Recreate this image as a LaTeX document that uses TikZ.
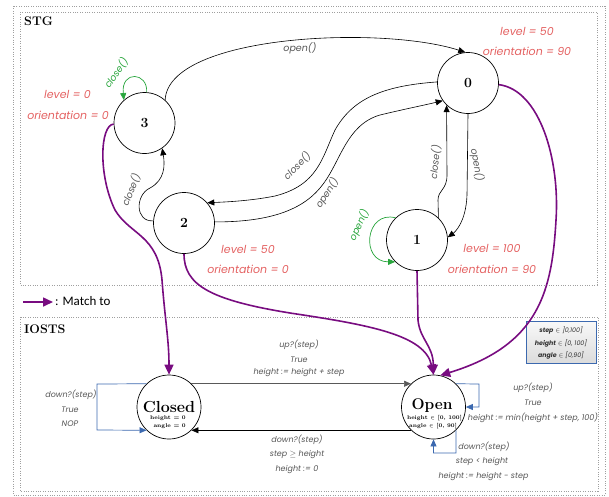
\documentclass[tikz,border=0pt]{standalone}
\usepackage{fontspec}
\newfontfamily\labfont{Poppins}
\newfontfamily\legfont{Carlito}
\usetikzlibrary{arrows.meta}
\definecolor{redl}{RGB}{228,98,98}
\definecolor{greenl}{RGB}{40,165,60}
\definecolor{purp}{RGB}{120,12,128}
\definecolor{bluel}{RGB}{60,105,175}
\definecolor{labgray}{RGB}{85,85,85}
\tikzset{
  stnode/.style={circle, draw, line width=0.7pt, minimum size=61pt, inner sep=0pt, fill=white, font=\bfseries\fontsize{14}{14}\selectfont},
  ionode/.style={circle, draw, line width=0.7pt, minimum size=64pt, inner sep=0pt, fill=white},
  redlab/.style={text=redl, font=\labfont\itshape\fontsize{11}{12}\selectfont, inner sep=0pt},
  stglab/.style={text=labgray, font=\labfont\itshape\fontsize{9.5}{10}\selectfont, inner sep=0pt},
  greenlab/.style={text=greenl, font=\labfont\itshape\fontsize{9.5}{10}\selectfont, inner sep=0pt},
  iolab/.style={text=labgray, font=\labfont\itshape\fontsize{8}{9}\selectfont, inner sep=0pt},
  tri/.style={-{Triangle[length=7pt,width=6pt]}, line width=0.6pt},
  greenarr/.style={draw=greenl, -{Triangle[length=7pt,width=6pt]}, line width=0.7pt},
  bluearr/.style={draw=bluel, -{Triangle[length=7pt,width=6pt]}, line width=0.7pt},
  match/.style={draw=purp, line width=1.6pt, -{Triangle[length=10pt,width=9pt]}},
  frame/.style={draw=gray!75, line width=0.6pt, dash pattern=on 1pt off 1.4pt},
  title/.style={font=\bfseries\fontsize{12.5}{13}\selectfont, inner sep=0pt},
  small/.style={font=\bfseries\fontsize{5.5}{6}\selectfont, inner sep=0pt},
  boxtxt/.style={font=\labfont\itshape\fontsize{6.3}{7}\selectfont, text=black!80, inner sep=0pt}
}
\begin{document}
\begin{tikzpicture}[x=1pt,y=-1pt]
\useasboundingbox (0,0) rectangle (609,496);
% frames
\draw[frame] (13,6) rectangle (605,495);
\draw[frame] (20,12) rectangle (597,285);
\draw[frame] (20,317) rectangle (598,491);
\node[title, anchor=north west] (tstg) at (24,17) {STG};
\node[title, anchor=west] (tiosts) at (24,329) {IOSTS};

% STG states
\node[stnode] (s3) at (144.5,123) {3};
\node[stnode] (s0) at (468,83) {0};
\node[stnode] (s2) at (184,223) {2};
\node[stnode] (s1) at (417,240) {1};

% red labels
\node[redlab] (l3a) at (67.5,94) {level = 0};
\node[redlab] (l3b) at (68,115) {orientation = 0};
\node[redlab] (l0a) at (527,31) {level = 50};
\node[redlab] (l0b) at (527,51) {orientation = 90};
\node[redlab] (l2a) at (248,249) {level = 50};
\node[redlab] (l2b) at (248,269) {orientation = 0};
\node[redlab] (l1a) at (492,248) {level = 100};
\node[redlab] (l1b) at (492,269) {orientation = 90};

% STG edges
\draw[tri] (s3.48) .. controls (168,35) and (380,25) .. (s0.95);
\node[stglab] (e30) at (300,48) {open()};

\draw[greenarr] (s3.86) .. controls (148,72) and (121,70) .. (s3.132);
\node[greenlab, rotate=55] (e33) at (116,73) {close()};

\draw[tri] (s0.178) .. controls (380,86) and (352,100) .. (335,130) .. controls (322,158) and (318,185) .. (275,196) .. controls (250,201) and (225,202) .. (s2.41);
\node[stglab, rotate=45] (e02) at (297,166) {close()};

\draw[tri] (s2.2) .. controls (265,222) and (300,212) .. (320,188) .. controls (340,165) and (345,125) .. (380,115) .. controls (405,109) and (425,105) .. (s0.215);
\node[stglab, rotate=57] (e20) at (327,193) {open()};

\draw[tri] (s1.46) -- (438,200) .. controls (438,190) and (447,190) .. (447,175) -- (s0.226);
\node[stglab, rotate=84] (e10) at (435,162) {close()};

\draw[tri] (s0.270) -- (467,195) .. controls (466,222) and (455,232) .. (s1.5);
\node[stglab, rotate=-80] (e01) at (477,165) {open()};

\draw[greenarr] (s1.134) .. controls (365,210) and (360,262) .. (s1.225);
\node[greenlab, rotate=65] (e11) at (359,225) {open()};

\draw[tri] (s2.176) .. controls (135,222) and (135,195) .. (150,188) .. controls (165,180) and (165,165) .. (s3.305);
\node[stglab, rotate=68] (e23) at (131,190) {close()};

% legend
\coordinate (lga) at (23,302);
\coordinate (lgb) at (53,302);
\draw[match] (lga) -- (lgb);
\node[anchor=west, font=\legfont\fontsize{13}{14}\selectfont, inner sep=0pt] (lgt) at (55,301) {: Match to};

% IOSTS states
\node[ionode] (closed) at (169,407) {};
\node[ionode] (open) at (433.5,407) {};
\node[font=\bfseries\fontsize{16}{16}\selectfont, inner sep=0pt, anchor=base] (ct) at (169,412) {Closed};
\node[small, anchor=east] (c1) at (186,418) {height = 0};
\node[small, anchor=east] (c2) at (186,426) {angle = 0};
\node[font=\bfseries\fontsize{15.5}{16}\selectfont, inner sep=0pt, anchor=base] (ot) at (432,409) {Open};
\node[small] (o1) at (434.5,418) {height $\in$ [0, 100]};
\node[small] (o2) at (433,426) {angle $\in$ [0, 90]};

% info box
\node[draw=bluel, line width=0.8pt, top color=gray!5, bottom color=gray!28, minimum width=70pt, minimum height=42pt, inner sep=0pt] (info) at (561,342) {};
\node[boxtxt] (i1) at (561,330) {{\bfseries step} $\in$ ]0,100]};
\node[boxtxt] (i2) at (561,343) {{\bfseries height} $\in$ [0, 100]};
\node[boxtxt] (i3) at (561,355) {{\bfseries angle} $\in$ [0,90]};

% IOSTS edges
\draw[tri, draw=black!65] (closed.46) -- (open.134);
\node[iolab] (u1) at (299,345) {up?(step)};
\node[iolab] (u2) at (299,360) {True};
\node[iolab] (u3) at (299,373) {height := height + step};

\draw[tri] (open.226) -- (closed.-46);
\node[iolab] (d1) at (297,440) {down?(step)};
\node[iolab] (d2) at (297,455) {step $\geq$ height};
\node[iolab] (d3) at (297,470) {height := 0};

\draw[bluearr] (closed.134) -- (97,384) -- (97,430) -- (closed.226);
\node[iolab] (cl1) at (71,395) {down?(step)};
\node[iolab] (cl2) at (70,410) {True};
\node[iolab] (cl3) at (70,424) {NOP};

\draw[bluearr] (open.46) -- (479,384) -- (479,407) -- (open.east);
\node[iolab] (ou1) at (533,388) {up?(step)};
\node[iolab] (ou2) at (533,403) {True};
\node[iolab] (ou3) at (533,418) {height := min(height + step, 100)};

\draw[bluearr] (open.-46) -- (456,453) -- (433.5,453) -- (open.south);
\node[iolab] (od1) at (484,447) {down?(step)};
\node[iolab] (od2) at (482,462) {step < height};
\node[iolab] (od3) at (483.5,477) {height := height - step};

% match arrows
\draw[match] (s3.182) .. controls (100,125) and (98,175) .. (115,210) .. controls (130,235) and (158,235) .. (162,280) .. controls (165,320) and (169,340) .. (closed.north);
\draw[match] (s2.south) .. controls (184,285) and (210,300) .. (290,313) .. controls (370,325) and (425,335) .. (open.north);
\draw[match] (s1.south) -- (418,320) .. controls (420,340) and (433,345) .. (open.north);
\draw[match] (s0.-3) .. controls (540,90) and (560,160) .. (556,220) .. controls (552,290) and (540,345) .. (open.78);
\end{tikzpicture}
\end{document}
